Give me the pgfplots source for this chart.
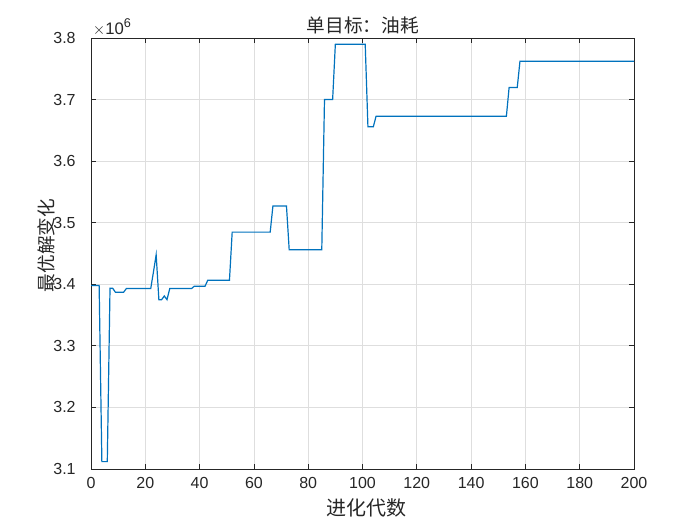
\documentclass[border=0pt]{standalone}
\usepackage{pgfplots}
\pgfplotsset{compat=1.18}
\usetikzlibrary{calc}
\usepackage{fontspec}
\setmainfont{Liberation Sans}
\newfontfamily\cjk{Noto Sans CJK SC}
\definecolor{mblue}{rgb}{0,0.447,0.741}
\definecolor{mtext}{rgb}{0.15,0.15,0.15}
\definecolor{mgrid}{rgb}{0.87,0.87,0.87}
\begin{document}
\begin{tikzpicture}
\path[use as bounding box] (0,0) rectangle (525pt,393.75pt);
\begin{axis}[
  at={(68.25pt,42pt)}, anchor=south west,
  scale only axis, width=407.25pt, height=323.25pt,
  xmin=0, xmax=200, ymin=3.1, ymax=3.8,
  xtick={0,20,...,200},
  ytick={3.1,3.2,3.3,3.4,3.5,3.6,3.7,3.8},
  yticklabels={3.1,3.2,3.3,3.4,3.5,3.6,3.7,3.8},
  /pgf/number format/assume math mode=true,
  tick label style={font=\fontsize{12}{14}\selectfont, text=mtext},
  xticklabel style={yshift=-3pt},
  yticklabel style={xshift=-8pt},
  tick align=inside, major tick length=3.75pt,
  tick style={mtext, line width=0.6pt},
  axis line style={mtext, line width=0.6pt},
  grid=major, grid style={mgrid, line width=0.6pt},
  clip=true,
]
\addplot[mblue, line width=0.9pt, line join=miter] coordinates {
(0,3.398)(3,3.398)(4,3.112)(6,3.112)(7,3.3935)(8,3.3935)(9,3.387)(12,3.387)
(13,3.393)(22,3.393)(23,3.42)(24,3.448)(25,3.375)(26,3.375)(27,3.381)(28,3.375)
(29,3.393)(37,3.393)(38,3.3967)(42,3.3967)(43,3.4066)(51,3.4066)(52,3.4847)
(66,3.4847)(67,3.527)(72,3.527)(73,3.456)(85,3.456)(86,3.700)(89,3.700)
(90,3.790)(101,3.790)(102,3.656)(104,3.656)(105,3.673)(153,3.673)(154,3.7197)
(157,3.7197)(158,3.7623)(200,3.7623)
};
\end{axis}
\node[anchor=base west, text=mtext, font=\fontsize{12.5}{14}\selectfont, inner sep=0pt]
  at (69.5pt,368pt) {$\times$10\raisebox{5pt}{\fontsize{9.5}{10}\selectfont 6}};
\node[text=mtext, font=\cjk\fontsize{14}{16}\selectfont] at (272pt,375pt) {单目标：油耗};
\node[text=mtext, font=\cjk\fontsize{15}{17}\selectfont] at (275pt,12.75pt) {进化代数};
\node[text=mtext, font=\cjk\fontsize{14}{16}\selectfont, rotate=90] at (34.5pt,209.6pt) {最优解变化};
\end{tikzpicture}
\end{document}
